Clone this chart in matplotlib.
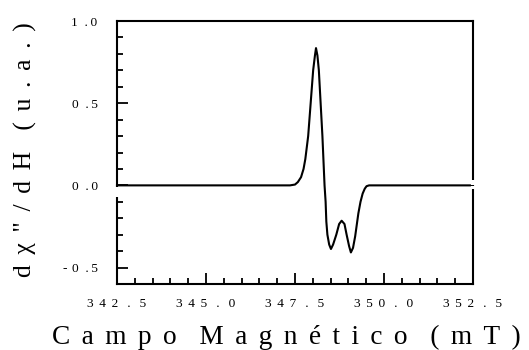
import matplotlib
matplotlib.use("Agg")
import matplotlib.pyplot as plt
from matplotlib.ticker import MultipleLocator, FixedLocator

# Data (field in mT, signal in a.u.)
field = [342.5, 347.36, 347.50, 347.58, 347.67, 347.74, 347.79, 347.87, 347.94,
         348.01, 348.06, 348.09, 348.13, 348.17, 348.22, 348.27, 348.32, 348.33,
         348.36, 348.38, 348.41, 348.46, 348.51, 348.57, 348.66, 348.74, 348.81,
         348.89, 348.95, 349.02, 349.07, 349.13, 349.19, 349.28, 349.34, 349.40,
         349.46, 349.51, 349.58, 352.5]
signal = [0.0, 0.0, 0.005, 0.02, 0.05, 0.10, 0.16, 0.30, 0.50,
          0.70, 0.79, 0.835, 0.79, 0.70, 0.50, 0.30, 0.05, 0.0,
          -0.10, -0.22, -0.30, -0.36, -0.387, -0.36, -0.30, -0.235, -0.215,
          -0.235, -0.30, -0.37, -0.408, -0.38, -0.31, -0.17, -0.10, -0.05,
          -0.02, -0.005, 0.0, 0.0]

G = "\u2005\u2006"          # letter gap
P = "\u2002\u2006"          # gap around the decimal point
xticks = [342.5, 345.0, 347.5, 350.0, 352.5]
xticklabels = [f"3{G}4{G}2{P}.{P}5", f"3{G}4{G}5{P}.{P}0", f"3{G}4{G}7{P}.{P}5",
               f"3{G}5{G}0{P}.{P}0", f"3{G}5{G}2{P}.{P}5"]
yticks = [-0.5, 0.0, 0.5, 1.0]
yticklabels = ["-\u20040\u2002.\u20095", "0\u2002.\u20090", "0\u2002.\u20095", "1\u2002.\u20090"]

xlabel_text = G.join("Campo") + G * 2 + G.join("Magnético") + G * 2 + G.join("(mT)")
ylabel_text = G.join("dχ\"/dH") + G * 2 + G.join("(u.a.)")

serif = ["Liberation Serif", "DejaVu Serif"]

W, H = 529, 350
fig = plt.figure(figsize=(W / 100, H / 100), dpi=100)
ax = fig.add_axes([117 / W, 1 - 284 / H, (473 - 117) / W, (284 - 21) / H])

ax.plot(field, signal, color="black", lw=1.5, solid_joinstyle="round", clip_on=False, zorder=3)

ax.set_xlim(342.5, 352.5)
ax.set_ylim(-0.6, 1.0)

ax.xaxis.set_major_locator(FixedLocator(xticks))
ax.xaxis.set_minor_locator(MultipleLocator(0.5))
ax.yaxis.set_major_locator(FixedLocator(yticks))
ax.yaxis.set_minor_locator(MultipleLocator(0.1))
ax.set_xticklabels(xticklabels, family=serif, fontsize=9.6)
ax.set_yticklabels(yticklabels, family=serif, fontsize=9.6)

ax.tick_params(which="both", direction="in", top=False, right=False, width=1.3, color="black")
ax.tick_params(which="major", length=8)
ax.tick_params(which="minor", length=4.5)
ax.tick_params(axis="x", which="major", pad=10)
ax.tick_params(axis="y", which="major", pad=14)

for s in ax.spines.values():
    s.set_linewidth(1.5)

# small gaps in the spines next to the zero line, as in the reference
def ay(v):
    return (v + 0.6) / 1.6
ax.plot([0, 0], [ay(-0.01), ay(-0.07)], transform=ax.transAxes, color="white",
        lw=3, clip_on=False, zorder=5, solid_capstyle="butt")
ax.plot([1, 1], [ay(0.03), ay(0.005)], transform=ax.transAxes, color="white",
        lw=3, clip_on=False, zorder=5, solid_capstyle="butt")
ax.plot([1, 1], [ay(-0.005), ay(-0.025)], transform=ax.transAxes, color="white",
        lw=3, clip_on=False, zorder=5, solid_capstyle="butt")

renderer = fig.canvas.get_renderer()

# x label: fit between x=52 and x=523 px, baseline near the bottom
xt = fig.text(52 / W, 1 - 344 / H, xlabel_text, family=serif, fontsize=20,
              ha="left", va="baseline")
wpx = xt.get_window_extent(renderer).width
xt.set_fontsize(20 * 471 / wpx)

# y label: span from y=22 to y=277 px
yt = fig.text(25 / W, 1 - 150 / H, ylabel_text, family=serif, fontsize=19,
              ha="center", va="center", rotation=90)
hpx = yt.get_window_extent(renderer).height
yt.set_fontsize(19 * 255 / hpx)

fig.savefig("out.png", dpi=100)
